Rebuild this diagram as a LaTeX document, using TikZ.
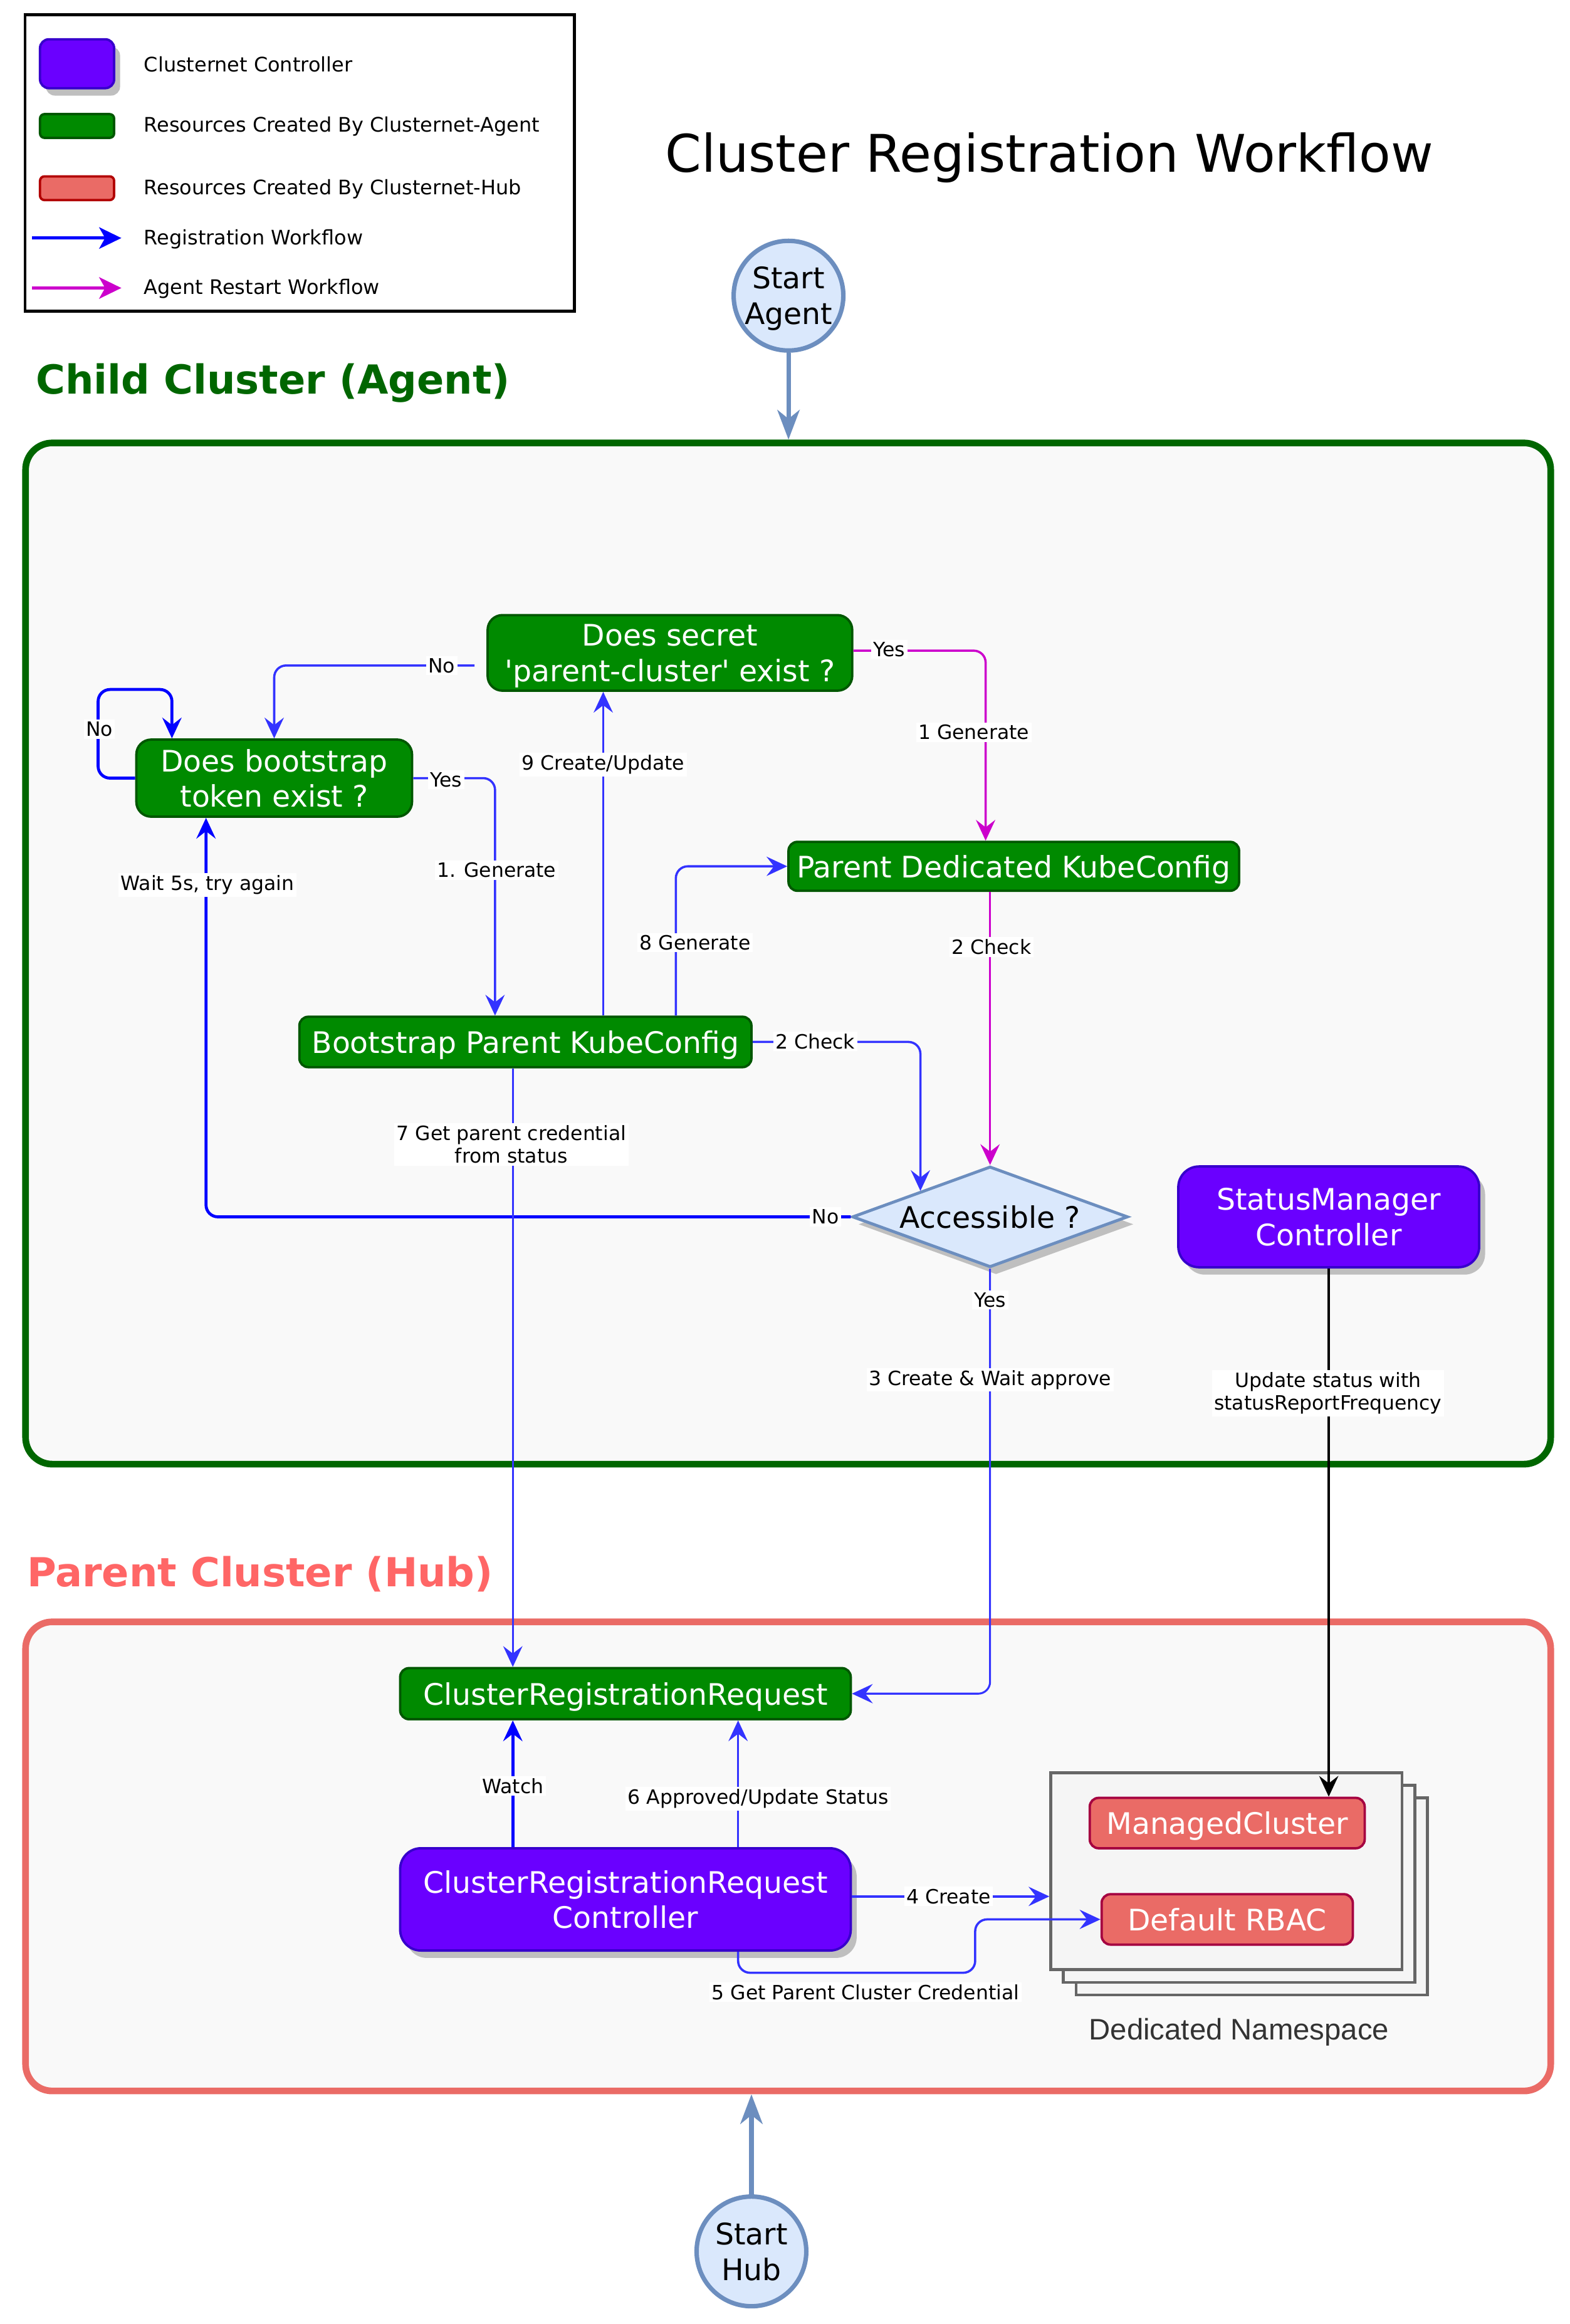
\documentclass[tikz,border=0pt]{standalone}
\usepackage{fontspec}
\setmainfont{DejaVu Sans}
\newfontfamily\helv{Liberation Sans}
\usetikzlibrary{arrows.meta,calc,shapes.geometric,shadows}
\definecolor{gfill}{HTML}{008A00}
\definecolor{gline}{HTML}{005700}
\definecolor{pfill}{HTML}{6A00FF}
\definecolor{pline}{HTML}{3700CC}
\definecolor{rfill}{HTML}{EA6B66}
\definecolor{rline}{HTML}{A50040}
\definecolor{lgline}{HTML}{B20000}
\definecolor{bl}{HTML}{3333FF}
\definecolor{pb}{HTML}{0000FF}
\definecolor{mg}{HTML}{CC00CC}
\definecolor{sfill}{HTML}{DAE8FC}
\definecolor{sline}{HTML}{6C8EBF}
\definecolor{cbg}{HTML}{F9F9F9}
\definecolor{dkgreen}{HTML}{006600}
\definecolor{hubred}{HTML}{FF6666}
\definecolor{nsfill}{HTML}{F5F5F5}
\definecolor{nsline}{HTML}{666666}
\definecolor{shad}{HTML}{BFBFBF}
\begin{document}
\begin{tikzpicture}[x=1pt,y=-1pt,
  nodefont/.style={font=\fontsize{20}{24}\selectfont, text depth=0pt},
  gbox/.style={rectangle, draw=gline, fill=gfill, line width=1.6pt, text=white, nodefont, align=center, inner sep=0pt},
  pbox/.style={rectangle, draw=pline, fill=pfill, line width=1.6pt, text=white, nodefont, align=center, inner sep=0pt, rounded corners=14pt,
     drop shadow={shadow xshift=4pt, shadow yshift=-5pt, fill=shad, opacity=1}},
  rbox/.style={rectangle, draw=rline, fill=rfill, line width=1.6pt, text=white, nodefont, align=center, inner sep=0pt, rounded corners=6pt},
  cont/.style={rectangle, fill=cbg, line width=4.5pt, rounded corners=18pt, inner sep=0pt},
  startc/.style={circle, draw=sline, fill=sfill, line width=3pt, minimum size=74pt, inner sep=0pt, nodefont, align=center},
  lbl/.style={fill=white, inner sep=1.5pt, font=\fontsize{13.3}{15.5}\selectfont, align=center},
  legtxt/.style={anchor=west, inner sep=0pt, font=\fontsize{13.5}{16}\selectfont},
  tipn/.style={-{Stealth[length=14pt,width=13pt,inset=5pt]}},
  edge/.style={draw=bl, line width=1.5pt, rounded corners=8pt, tipn},
  edgeb/.style={draw=pb, line width=2pt, rounded corners=8pt, tipn},
  edgem/.style={draw=mg, line width=1.5pt, rounded corners=8pt, tipn},
  edgek/.style={draw=black, line width=1.5pt, tipn},
  thickedge/.style={draw=sline, line width=3pt, -{Stealth[length=20pt,width=15pt,inset=6pt]}},
  legarrow/.style={line width=2pt, -{Stealth[length=15pt,width=14.5pt,inset=4pt]}}
]
\useasboundingbox[fill=white] (0,0) rectangle (1059,1568);

% ---------- legend ----------
\node[draw=black, line width=2pt, minimum width=370.5pt, minimum height=200pt, inner sep=0pt] (legend) at (202.2,110) {};
\node[rectangle, draw=pline, fill=pfill, line width=1.6pt, rounded corners=6pt, minimum width=50pt, minimum height=33pt, inner sep=0pt,
      drop shadow={shadow xshift=4pt, shadow yshift=-5pt, fill=shad, opacity=1}] (legP) at (52,43) {};
\node[rectangle, draw=gline, fill=gfill, line width=1.6pt, rounded corners=3pt, minimum width=50pt, minimum height=16pt, inner sep=0pt] (legG) at (52,85) {};
\node[rectangle, draw=lgline, fill=rfill, line width=1.6pt, rounded corners=3pt, minimum width=50pt, minimum height=16pt, inner sep=0pt] (legR) at (52,127) {};
\coordinate (legBa) at (21.6,160.6);
\coordinate (legBb) at (81.9,160.6);
\coordinate (legMa) at (21.6,194.3);
\coordinate (legMb) at (81.9,194.3);
\draw[legarrow, draw=pb] (legBa) -- (legBb);
\draw[legarrow, draw=mg] (legMa) -- (legMb);
\node[legtxt] (legt1) at (97,43.5) {Clusternet Controller};
\node[legtxt] (legt2) at (97,85.3) {Resources Created By Clusternet-Agent};
\node[legtxt] (legt3) at (97,127.4) {Resources Created By Clusternet-Hub};
\node[legtxt] (legt4) at (97,161.3) {Registration Workflow};
\node[legtxt] (legt5) at (97,195) {Agent Restart Workflow};

% ---------- titles ----------
\node[inner sep=0pt, font=\fontsize{35}{42}\selectfont] (title) at (708,106.5) {Cluster Registration Workflow};
\node[anchor=west, inner sep=0pt, text=dkgreen, font=\fontsize{27}{32}\bfseries] (childlbl) at (24,258.5) {Child Cluster (Agent)};
\node[anchor=west, inner sep=0pt, text=hubred, font=\fontsize{27}{32}\bfseries] (hublbl) at (18,1062) {Parent Cluster (Hub)};

% ---------- containers ----------
\node[cont, draw=dkgreen, minimum width=1029pt, minimum height=689pt] (child) at (531.75,643.35) {};
\node[cont, draw=rfill, minimum width=1029pt, minimum height=316.5pt] (hub) at (531.75,1252.5) {};

% ---------- start nodes ----------
\node[startc] (startA) at (532,199.5) {Start\\Agent};
\node[startc] (startH) at (507,1519) {Start\\Hub};

% ---------- child cluster nodes ----------
\node[gbox, rounded corners=10pt, minimum width=246pt, minimum height=51pt] (secret) at (452,440.5) {Does secret\\\textquotesingle parent-cluster\textquotesingle\ exist ?};
\node[gbox, rounded corners=10pt, minimum width=186pt, minimum height=52pt] (tok) at (185,525) {Does bootstrap\\token exist ?};
\node[gbox, rounded corners=6pt, minimum width=304pt, minimum height=33pt] (pdk) at (684,584.5) {Parent Dedicated KubeConfig};
\node[gbox, rounded corners=6pt, minimum width=305pt, minimum height=34pt] (bkc) at (354.5,703) {Bootstrap Parent KubeConfig};
\node[diamond, aspect=2.735, draw=sline, fill=sfill, line width=2pt, minimum width=186pt, minimum height=68pt, inner sep=0pt, nodefont,
      drop shadow={shadow xshift=4pt, shadow yshift=-5pt, fill=shad, opacity=1}] (acc) at (668,821) {Accessible ?};
\node[pbox, minimum width=203pt, minimum height=68pt] (sm) at (896.5,821) {StatusManager\\Controller};

% ---------- hub nodes ----------
\node[gbox, rounded corners=6pt, minimum width=304pt, minimum height=34.5pt] (crr) at (422,1142.7) {ClusterRegistrationRequest};
\node[pbox, minimum width=304pt, minimum height=69pt] (crrc) at (422,1281.5) {ClusterRegistrationRequest\\Controller};
\node[rectangle, draw=nsline, fill=nsfill, line width=2pt, minimum width=237pt, minimum height=133pt, inner sep=0pt] (ns3) at (844.5,1279.5) {};
\node[rectangle, draw=nsline, fill=nsfill, line width=2pt, minimum width=237pt, minimum height=133pt, inner sep=0pt] (ns2) at (836,1271) {};
\node[rectangle, draw=nsline, fill=nsfill, line width=2pt, minimum width=237pt, minimum height=133pt, inner sep=0pt] (ns) at (827.5,1262.5) {};
\node[rbox, minimum width=185.5pt, minimum height=34pt] (mc) at (828,1230) {ManagedCluster};
\node[rbox, minimum width=169.5pt, minimum height=34pt] (rbac) at (828,1295) {Default RBAC};
\node[inner sep=0pt, text depth=0pt, text={rgb,255:red,51;green,51;blue,51}, font=\helv\fontsize{20}{24}\selectfont] (nslbl) at (836,1369) {Dedicated Namespace};

% ---------- connectors ----------
\draw[thickedge] (startA.south) -- (startA.south |- child.north);
\draw[thickedge] (startH.north) -- (startH.north |- hub.south);

% secret No -> tok
\draw[edge] ([xshift=-8pt,yshift=-8.5pt]secret.west) -| (tok.north);
\node[lbl] (lno1) at (298,449) {No};
% tok self loop
\draw[edgeb] (tok.west) -- ++(-25,0) |- ($(tok.north)+(-69,-33)$) -- ([xshift=-69pt]tok.north);
\node[lbl] (lno2) at (67,492) {No};
% tok Yes -> bkc
\draw[edge] (tok.east) -| ([xshift=-20.5pt]bkc.north);
\node[lbl] (lyes1) at (301,526) {Yes};
\node[lbl] (lgen1) at (335,587) {1. Generate};
% bkc -> secret
\draw[edge] ([xshift=52.5pt]bkc.north) -- ([xshift=52.5pt]bkc.north |- secret.south);
\node[lbl] (lcu) at (407,516) {9 Create/Update};
% bkc -> pdk
\draw[edge] ([xshift=101.5pt]bkc.north) |- (pdk.west);
\node[lbl] (lgen8) at (469,636) {8 Generate};
% secret Yes -> pdk
\draw[edgem] ([yshift=1.5pt]secret.east) -| ([xshift=-19pt]pdk.north);
\node[lbl] (lyes2) at (600,438) {Yes};
\node[lbl] (lgen1b) at (657,494) {1 Generate};
% pdk -> acc
\draw[edgem] (acc.north |- pdk.south) -- (acc.north);
\node[lbl] (lchk1) at (669,639) {2 Check};
% bkc -> acc
\draw[edge] (bkc.east) -| ($(acc.west)!0.5!(acc.north)$);
\node[lbl] (lchk2) at (550,702.5) {2 Check};
% acc No -> tok
\draw[edgeb] (acc.west) -| ([xshift=-46pt]tok.south);
\node[lbl] (lno3) at (557,821) {No};
\node[lbl] (lwait) at (140,597) {Wait 5s, try again};
% acc Yes -> crr
\draw[edge, line width=1.3pt] (acc.south) |- (crr.east);
\node[lbl] (lyes3) at (668,877) {Yes};
\node[lbl] (lcw) at (668,931) {3 Create \& Wait approve};
% bkc -> crr
\draw[edge, line width=1.3pt] ([xshift=-8.5pt]bkc.south) -- ([xshift=-76pt]crr.north);
\node[lbl] (lget) at (345,772) {7 Get parent credential\\from status};
% sm -> mc
\draw[edgek] (sm.south) -- (sm.south |- mc.north);
\node[lbl] (lupd) at (896,940) {Update status with\\statusReportFrequency};
% crrc -> crr watch
\draw[edgeb] ([xshift=-76pt]crrc.north) -- ([xshift=-76pt]crr.south);
\node[lbl] (lwatch) at (346,1205) {Watch};
% crrc -> crr 6
\draw[edge] ([xshift=76pt]crrc.north) -- ([xshift=76pt]crr.south);
\node[lbl] (lappr) at (511.5,1213.6) {6 Approved/Update Status};
% crrc -> ns 4 Create
\draw[edge] ([yshift=2pt]crrc.east) -- ([yshift=2pt]crrc.east -| ns.west);
\node[lbl] (lcreate) at (640,1279.4) {4 Create};
% crrc -> rbac 5
\draw[edge] ([xshift=76pt]crrc.south) |- ($(rbac.west)+(-84.5,36)$) |- (rbac.west);
\node[lbl] (lcred) at (584,1344) {5 Get Parent Cluster Credential};
\end{tikzpicture}
\end{document}
